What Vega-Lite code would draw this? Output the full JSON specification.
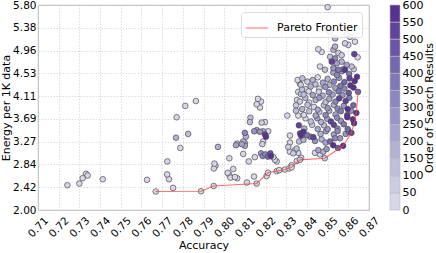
{
"$schema": "https://vega.github.io/schema/vega-lite/v6.json",
"width": 331, "height": 205,
"autosize": "none",
"padding": {"left": 38, "top": 5, "right": 67, "bottom": 43},
"background": "white",
"config": {
 "font": "DejaVu Sans",
 "view": {"stroke": "#999", "strokeWidth": 0.8},
 "axis": {"domain": false, "ticks": false, "grid": true, "gridColor": "#d6d6d6", "gridDash": [1.5, 1.5], "gridWidth": 0.8, "labelFont": "DejaVu Sans", "labelFontSize": 10.5, "labelColor": "#000", "titleFont": "DejaVu Sans", "titleFontSize": 11, "titleFontWeight": "normal", "titleColor": "#000"},
 "legend": {"labelFont": "DejaVu Sans", "titleFont": "DejaVu Sans", "labelColor": "#000", "titleColor": "#000"}
},
"datasets": {
 "pts": [
{"accuracy":0.7242,"energy":2.46,"order":10},{"accuracy":0.7300,"energy":2.49,"order":20},{"accuracy":0.7316,"energy":2.59,"order":30},{"accuracy":0.7332,"energy":2.67,"order":15},{"accuracy":0.7340,"energy":2.64,"order":25},{"accuracy":0.7413,"energy":2.57,"order":35},{"accuracy":0.7627,"energy":2.56,"order":5},{"accuracy":0.7669,"energy":2.343,"order":12},{"accuracy":0.7724,"energy":2.66,"order":40},{"accuracy":0.7725,"energy":2.90,"order":45},{"accuracy":0.7733,"energy":2.57,"order":20},{"accuracy":0.7753,"energy":2.41,"order":30},{"accuracy":0.7767,"energy":3.34,"order":150},{"accuracy":0.7788,"energy":3.15,"order":40},{"accuracy":0.7826,"energy":3.41,"order":140},{"accuracy":0.7888,"energy":2.347,"order":8},{"accuracy":0.7949,"energy":2.445,"order":25},{"accuracy":0.7950,"energy":2.77,"order":30},{"accuracy":0.7953,"energy":2.86,"order":35},{"accuracy":0.7958,"energy":2.82,"order":20},{"accuracy":0.7970,"energy":3.17,"order":170},{"accuracy":0.7863,"energy":4.02,"order":20},{"accuracy":0.7812,"energy":3.93,"order":15},{"accuracy":0.7770,"energy":3.72,"order":10},
{"accuracy":0.8025,"energy":2.96,"order":20},{"accuracy":0.8017,"energy":2.69,"order":20},{"accuracy":0.8025,"energy":2.65,"order":10},{"accuracy":0.8044,"energy":2.76,"order":30},{"accuracy":0.8052,"energy":2.61,"order":40},{"accuracy":0.8063,"energy":2.59,"order":20},{"accuracy":0.8030,"energy":2.60,"order":10},{"accuracy":0.8110,"energy":2.51,"order":15},{"accuracy":0.8157,"energy":2.491,"order":60},{"accuracy":0.8144,"energy":2.62,"order":25},{"accuracy":0.8205,"energy":2.63,"order":20},{"accuracy":0.8212,"energy":2.69,"order":40},{"accuracy":0.8254,"energy":2.72,"order":30},{"accuracy":0.8266,"energy":2.74,"order":35},{"accuracy":0.8293,"energy":2.75,"order":10},{"accuracy":0.8314,"energy":2.77,"order":40},{"accuracy":0.8326,"energy":2.83,"order":20},{"accuracy":0.8326,"energy":2.79,"order":45},{"accuracy":0.8366,"energy":2.93,"order":50},{"accuracy":0.8351,"energy":2.91,"order":30},{"accuracy":0.8372,"energy":2.97,"order":20},{"accuracy":0.8245,"energy":2.93,"order":20},{"accuracy":0.8254,"energy":2.90,"order":10},{"accuracy":0.8237,"energy":2.98,"order":25},{"accuracy":0.8148,"energy":2.98,"order":20},{"accuracy":0.8119,"energy":2.90,"order":30},{"accuracy":0.8092,"energy":3.04,"order":40},
{"accuracy":0.8178,"energy":3.05,"order":260},{"accuracy":0.8186,"energy":3.00,"order":300},{"accuracy":0.8199,"energy":3.03,"order":320},{"accuracy":0.8212,"energy":2.99,"order":420},{"accuracy":0.8223,"energy":3.05,"order":480},{"accuracy":0.8226,"energy":3.00,"order":590},
{"accuracy":0.8184,"energy":3.22,"order":50},{"accuracy":0.8188,"energy":3.27,"order":40},
{"accuracy":0.8057,"energy":3.20,"order":200},{"accuracy":0.8062,"energy":3.23,"order":120},{"accuracy":0.8085,"energy":3.22,"order":230},{"accuracy":0.8092,"energy":3.27,"order":150},{"accuracy":0.8100,"energy":3.24,"order":90},{"accuracy":0.8100,"energy":3.19,"order":210},
{"accuracy":0.8100,"energy":3.43,"order":300},{"accuracy":0.8105,"energy":3.36,"order":150},
{"accuracy":0.8145,"energy":3.46,"order":250},{"accuracy":0.8157,"energy":3.48,"order":200},{"accuracy":0.8173,"energy":3.45,"order":280},{"accuracy":0.8189,"energy":3.46,"order":220},{"accuracy":0.8197,"energy":3.40,"order":500},{"accuracy":0.8202,"energy":3.36,"order":560},{"accuracy":0.8213,"energy":3.46,"order":30},
{"accuracy":0.8127,"energy":3.71,"order":120},{"accuracy":0.8124,"energy":3.63,"order":130},{"accuracy":0.8181,"energy":3.62,"order":60},{"accuracy":0.8197,"energy":3.63,"order":30},
{"accuracy":0.8163,"energy":4.06,"order":30},{"accuracy":0.8178,"energy":4.01,"order":20},{"accuracy":0.8157,"energy":3.96,"order":40},{"accuracy":0.8173,"energy":3.90,"order":10},
{"accuracy":0.8305,"energy":3.75,"order":30},{"accuracy":0.8347,"energy":3.84,"order":100},{"accuracy":0.8358,"energy":3.75,"order":40},
{"accuracy":0.8355,"energy":4.41,"order":30},{"accuracy":0.8366,"energy":4.34,"order":20},{"accuracy":0.8358,"energy":4.19,"order":40},{"accuracy":0.8371,"energy":4.15,"order":60},{"accuracy":0.8376,"energy":4.23,"order":100},{"accuracy":0.8352,"energy":4.04,"order":20},{"accuracy":0.8366,"energy":4.01,"order":50},
{"accuracy":0.8318,"energy":3.38,"order":30},{"accuracy":0.8318,"energy":3.25,"order":40},
{"accuracy":0.8367,"energy":3.42,"order":520},{"accuracy":0.8371,"energy":3.38,"order":590},{"accuracy":0.8383,"energy":3.45,"order":560},{"accuracy":0.8399,"energy":3.39,"order":350},{"accuracy":0.8415,"energy":3.36,"order":300},{"accuracy":0.8431,"energy":3.35,"order":500},
{"accuracy":0.8383,"energy":3.30,"order":150},{"accuracy":0.8362,"energy":3.27,"order":120},
{"accuracy":0.8310,"energy":3.17,"order":60},{"accuracy":0.8318,"energy":3.08,"order":40},{"accuracy":0.8334,"energy":3.05,"order":80},{"accuracy":0.8342,"energy":3.11,"order":30},{"accuracy":0.8350,"energy":3.14,"order":100},{"accuracy":0.8358,"energy":3.06,"order":20},
{"accuracy":0.8439,"energy":3.06,"order":30},{"accuracy":0.8455,"energy":3.11,"order":200},{"accuracy":0.8463,"energy":3.03,"order":40},{"accuracy":0.8479,"energy":3.08,"order":150},
{"accuracy":0.8512,"energy":3.27,"order":400},{"accuracy":0.8527,"energy":3.20,"order":550},{"accuracy":0.8536,"energy":3.33,"order":300},{"accuracy":0.8560,"energy":3.33,"order":250},
{"accuracy":0.8486,"energy":2.96,"order":60},{"accuracy":0.8575,"energy":3.19,"order":560},{"accuracy":0.8615,"energy":3.43,"order":500},{"accuracy":0.8628,"energy":3.61,"order":560},{"accuracy":0.8639,"energy":3.80,"order":580},{"accuracy":0.8647,"energy":4.19,"order":400},
{"accuracy":0.8439,"energy":3.28,"order":260},{"accuracy":0.8471,"energy":3.31,"order":170},{"accuracy":0.8490,"energy":3.25,"order":220},{"accuracy":0.8495,"energy":3.13,"order":260},{"accuracy":0.8550,"energy":3.15,"order":450},
{"accuracy":0.8527,"energy":4.55,"order":200},{"accuracy":0.8545,"energy":4.50,"order":300},{"accuracy":0.8569,"energy":4.57,"order":250},{"accuracy":0.8584,"energy":4.60,"order":560},{"accuracy":0.8604,"energy":4.52,"order":350},{"accuracy":0.8626,"energy":4.61,"order":60},
{"accuracy":0.8378,"energy":4.44,"order":120},{"accuracy":0.8402,"energy":4.38,"order":60},{"accuracy":0.8428,"energy":4.41,"order":180},{"accuracy":0.8452,"energy":4.46,"order":30},{"accuracy":0.8477,"energy":4.36,"order":220},{"accuracy":0.8500,"energy":4.43,"order":150},{"accuracy":0.8530,"energy":4.38,"order":330},{"accuracy":0.8555,"energy":4.45,"order":280},{"accuracy":0.8581,"energy":4.37,"order":420},{"accuracy":0.8606,"energy":4.44,"order":520},{"accuracy":0.8631,"energy":4.39,"order":590},{"accuracy":0.8642,"energy":4.47,"order":570},
{"accuracy":0.8370,"energy":4.32,"order":80},{"accuracy":0.8395,"energy":4.24,"order":40},{"accuracy":0.8418,"energy":4.29,"order":150},{"accuracy":0.8441,"energy":4.33,"order":100},{"accuracy":0.8460,"energy":4.25,"order":20},{"accuracy":0.8489,"energy":4.28,"order":260},{"accuracy":0.8509,"energy":4.32,"order":180},{"accuracy":0.8537,"energy":4.26,"order":240},{"accuracy":0.8562,"energy":4.30,"order":380},{"accuracy":0.8581,"energy":4.25,"order":300},{"accuracy":0.8610,"energy":4.31,"order":560},{"accuracy":0.8625,"energy":4.27,"order":600},
{"accuracy":0.8384,"energy":4.14,"order":130},{"accuracy":0.8409,"energy":4.20,"order":40},{"accuracy":0.8428,"energy":4.13,"order":200},{"accuracy":0.8457,"energy":4.19,"order":90},{"accuracy":0.8476,"energy":4.12,"order":160},{"accuracy":0.8506,"energy":4.18,"order":300},{"accuracy":0.8524,"energy":4.14,"order":220},{"accuracy":0.8553,"energy":4.20,"order":350},{"accuracy":0.8572,"energy":4.13,"order":270},{"accuracy":0.8602,"energy":4.17,"order":450},
{"accuracy":0.8392,"energy":4.08,"order":110},{"accuracy":0.8411,"energy":3.99,"order":30},{"accuracy":0.8442,"energy":4.04,"order":190},{"accuracy":0.8460,"energy":4.08,"order":250},{"accuracy":0.8490,"energy":4.00,"order":140},{"accuracy":0.8508,"energy":4.06,"order":200},{"accuracy":0.8538,"energy":4.01,"order":310},{"accuracy":0.8556,"energy":4.07,"order":500},{"accuracy":0.8587,"energy":4.02,"order":540},{"accuracy":0.8605,"energy":4.08,"order":380},
{"accuracy":0.8347,"energy":3.94,"order":60},{"accuracy":0.8377,"energy":3.87,"order":170},{"accuracy":0.8403,"energy":3.95,"order":100},{"accuracy":0.8434,"energy":3.91,"order":30},{"accuracy":0.8452,"energy":3.86,"order":210},{"accuracy":0.8482,"energy":3.94,"order":120},{"accuracy":0.8500,"energy":3.89,"order":280},{"accuracy":0.8530,"energy":3.95,"order":190},{"accuracy":0.8548,"energy":3.88,"order":330},{"accuracy":0.8578,"energy":3.93,"order":260},{"accuracy":0.8597,"energy":3.87,"order":570},{"accuracy":0.8624,"energy":3.94,"order":420},
{"accuracy":0.8385,"energy":3.76,"order":40},{"accuracy":0.8411,"energy":3.83,"order":140},{"accuracy":0.8442,"energy":3.75,"order":220},{"accuracy":0.8460,"energy":3.82,"order":90},{"accuracy":0.8490,"energy":3.76,"order":300},{"accuracy":0.8508,"energy":3.84,"order":170},{"accuracy":0.8538,"energy":3.77,"order":240},{"accuracy":0.8564,"energy":3.83,"order":360},{"accuracy":0.8595,"energy":3.76,"order":530},{"accuracy":0.8613,"energy":3.84,"order":290},
{"accuracy":0.8393,"energy":3.70,"order":20},{"accuracy":0.8419,"energy":3.64,"order":120},{"accuracy":0.8450,"energy":3.70,"order":200},{"accuracy":0.8468,"energy":3.63,"order":160},{"accuracy":0.8498,"energy":3.69,"order":230},{"accuracy":0.8516,"energy":3.64,"order":520},{"accuracy":0.8546,"energy":3.71,"order":320},{"accuracy":0.8564,"energy":3.65,"order":280},{"accuracy":0.8595,"energy":3.72,"order":550},{"accuracy":0.8622,"energy":3.68,"order":590},
{"accuracy":0.8361,"energy":3.57,"order":540},{"accuracy":0.8387,"energy":3.51,"order":150},{"accuracy":0.8425,"energy":3.58,"order":80},{"accuracy":0.8452,"energy":3.50,"order":210},{"accuracy":0.8482,"energy":3.57,"order":130},{"accuracy":0.8500,"energy":3.50,"order":260},{"accuracy":0.8530,"energy":3.58,"order":500},{"accuracy":0.8548,"energy":3.51,"order":300},{"accuracy":0.8578,"energy":3.59,"order":350},{"accuracy":0.8597,"energy":3.50,"order":420},
{"accuracy":0.8466,"energy":3.41,"order":180},{"accuracy":0.8492,"energy":3.46,"order":240},{"accuracy":0.8530,"energy":3.40,"order":200},{"accuracy":0.8548,"energy":3.46,"order":330},{"accuracy":0.8587,"energy":3.41,"order":280},{"accuracy":0.8603,"energy":3.45,"order":380},
{"accuracy":0.8500,"energy":5.76,"order":10},{"accuracy":0.8502,"energy":5.34,"order":20},{"accuracy":0.8511,"energy":5.30,"order":30},{"accuracy":0.8592,"energy":5.26,"order":40},{"accuracy":0.8608,"energy":5.21,"order":20},{"accuracy":0.8536,"energy":5.18,"order":150},{"accuracy":0.8632,"energy":5.12,"order":30},{"accuracy":0.8584,"energy":5.09,"order":60},{"accuracy":0.8600,"energy":5.06,"order":20},{"accuracy":0.8455,"energy":4.98,"order":40},{"accuracy":0.8471,"energy":4.93,"order":10},{"accuracy":0.8536,"energy":5.03,"order":180},{"accuracy":0.8528,"energy":4.97,"order":150},{"accuracy":0.8552,"energy":4.91,"order":60},{"accuracy":0.8629,"energy":4.89,"order":520},{"accuracy":0.8568,"energy":4.87,"order":70},{"accuracy":0.8512,"energy":4.84,"order":140},{"accuracy":0.8536,"energy":4.81,"order":300},{"accuracy":0.8645,"energy":4.83,"order":30},{"accuracy":0.8520,"energy":4.75,"order":500},{"accuracy":0.8544,"energy":4.72,"order":220},{"accuracy":0.8568,"energy":4.75,"order":160},{"accuracy":0.8592,"energy":4.69,"order":200},{"accuracy":0.8616,"energy":4.66,"order":130},{"accuracy":0.8528,"energy":4.63,"order":250},{"accuracy":0.8552,"energy":4.60,"order":380},{"accuracy":0.8576,"energy":4.61,"order":330},{"accuracy":0.8463,"energy":4.66,"order":30},{"accuracy":0.8487,"energy":4.60,"order":120}
 ],
 "pareto": [
{"accuracy":0.7669,"energy":2.343},{"accuracy":0.7888,"energy":2.347},{"accuracy":0.7949,"energy":2.445},{"accuracy":0.8157,"energy":2.491},{"accuracy":0.8212,"energy":2.69},{"accuracy":0.8254,"energy":2.72},{"accuracy":0.8293,"energy":2.75},{"accuracy":0.8326,"energy":2.79},{"accuracy":0.8366,"energy":2.93},{"accuracy":0.8486,"energy":2.96},{"accuracy":0.8575,"energy":3.19},{"accuracy":0.8615,"energy":3.43},{"accuracy":0.8628,"energy":3.61},{"accuracy":0.8639,"energy":3.80},{"accuracy":0.8647,"energy":4.19}
 ]
},
"layer": [
 {
  "encoding": {
   "x": {"field": "accuracy", "type": "quantitative", "scale": {"domain": [0.71, 0.87], "nice": false, "zero": false},
     "axis": {"values": [0.71,0.72,0.73,0.74,0.75,0.76,0.77,0.78,0.79,0.80,0.81,0.82,0.83,0.84,0.85,0.86,0.87], "format": ".2f", "labelAngle": -45, "labelAlign": "center", "labelBaseline": "middle", "labelPadding": 17, "labelOverlap": false, "title": "Accuracy", "titlePadding": 0}},
   "y": {"field": "energy", "type": "quantitative", "scale": {"domain": [2, 5.8], "nice": false, "zero": false},
     "axis": {"values": [2, 2.4222, 2.8444, 3.2667, 3.6889, 4.1111, 4.5333, 4.9556, 5.3778, 5.8], "format": ".2f", "labelPadding": 2, "labelOverlap": false, "title": "Energy per 1K data", "titlePadding": 1}}
  },
  "layer": [
   {"data": {"name": "pts"},
    "mark": {"type": "circle", "size": 32, "opacity": 1, "stroke": "#4a4a4a", "strokeWidth": 0.7},
    "encoding": {
     "fill": {"field": "order", "type": "quantitative",
       "scale": {"type": "quantize", "domain": [0, 600], "nice": false, "scheme": {"name": "purples", "count": 12}},
       "legend": {"type": "gradient", "orient": "none", "legendX": 352, "legendY": 0, "direction": "vertical", "gradientLength": 205, "gradientThickness": 10, "gradientStrokeColor": "#bbb", "gradientStrokeWidth": 0.6, "labelExpr": "''", "labelOpacity": 0, "title": null}},
     "order": {"field": "order", "type": "quantitative"}
    }},
   {"data": {"name": "pareto"},
    "mark": {"type": "line", "strokeWidth": 1.1, "opacity": 0.75},
    "encoding": {
     "stroke": {"datum": "Pareto Frontier", "type": "nominal", "scale": {"range": ["#ff4040"]},
       "legend": {"orient": "none", "legendX": 203, "legendY": 7, "title": null, "symbolType": "stroke", "symbolSize": 500, "symbolStrokeWidth": 1.5, "symbolOpacity": 0.5, "labelFontSize": 11, "labelOffset": 8, "fillColor": "rgba(255,255,255,0.85)", "strokeColor": "#dcdcdc", "cornerRadius": 3, "padding": 4}}
    }}
  ]
 },
 {"data": {"name": "pts"},
  "mark": {"type": "point", "opacity": 0},
  "encoding": {
   "y": {"field": "order", "type": "quantitative", "scale": {"domain": [0, 600], "nice": false, "zero": false},
     "axis": {"orient": "right", "offset": 31, "values": [0,50,100,150,200,250,300,350,400,450,500,550,600], "labelFontSize": 11, "labelPadding": 2, "labelOverlap": false, "labelFlush": false, "title": "Order of Search Results", "titleAngle": 270, "titleBaseline": "top", "grid": false, "domain": false, "ticks": false, "titlePadding": 1}}
  }}
],
"resolve": {"scale": {"y": "independent"}, "axis": {"y": "independent"}}
}
